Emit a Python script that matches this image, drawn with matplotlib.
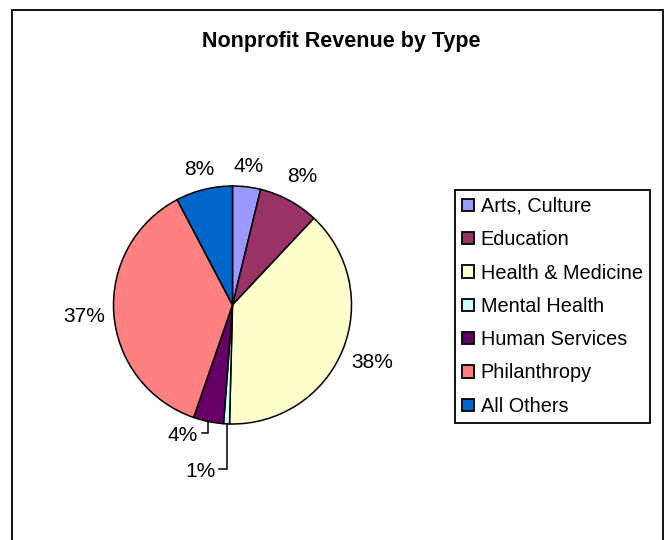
import numpy as np
import matplotlib
matplotlib.use("Agg")
import matplotlib.pyplot as plt
from matplotlib.patches import Rectangle

plt.rcParams['font.family'] = ['Liberation Sans', 'DejaVu Sans']

# data (share of revenue, %)
categories = ['Arts, Culture', 'Education', 'Health & Medicine', 'Mental Health',
              'Human Services', 'Philanthropy', 'All Others']
shares = [3.8, 8.2, 38.4, 0.8, 4.1, 37.0, 7.7]
colors = ['#9999FF', '#993366', '#FFFFCC', '#CCFFFF', '#660066', '#FF8080', '#0066CC']

# label placement (radius in pie units), None = leader line label
label_r = [1.17, 1.23, 1.27, None, None, 1.25, 1.17]
# leader line elbows (y of the horizontal part, x where it ends)
leader = {3: (-1.381, -0.111), 4: (-1.078, -0.259)}

W, H = 665, 540
fig = plt.figure(figsize=(W / 100, H / 100), dpi=100)

# outer chart border (bottom edge runs off the image)
fig.patches.append(Rectangle((12 / W, -0.02), (663 - 12) / W, (530 / H) + 0.02,
                             transform=fig.transFigure, fill=False,
                             edgecolor='black', linewidth=1.3))

fig.text(341.7 / W, 1 - 41.7 / H, 'Nonprofit Revenue by Type',
         ha='center', va='center', fontsize=15.5, fontweight='bold')

cx, cy, R = 232.5, 305, 119.0
half = 150
ax = fig.add_axes([(cx - half) / W, (H - cy - half) / H, 2 * half / W, 2 * half / H])
wedges, _ = ax.pie(shares, colors=colors, startangle=90, counterclock=False,
                   wedgeprops=dict(edgecolor='black', linewidth=1.1))
lim = half / R
ax.set_xlim(-lim, lim)
ax.set_ylim(-lim, lim)
ax.set_aspect('equal')
ax.axis('off')

total = sum(shares)
for i, w in enumerate(wedges):
    txt = f"{shares[i] / total * 100:.0f}%"
    mid = np.deg2rad((w.theta1 + w.theta2) / 2)
    ux, uy = np.cos(mid), np.sin(mid)
    if label_r[i] is not None:
        ax.text(label_r[i] * ux, label_r[i] * uy, txt, ha='center', va='center',
                fontsize=15)
    else:
        ly, lx = leader[i]
        ax.plot([ux, ux, lx], [uy, ly, ly], color='black', linewidth=1.1,
                solid_joinstyle='miter', clip_on=False)
        ax.text(lx - 0.03, ly - 0.02, txt, ha='right', va='center', fontsize=15)

leg = fig.legend(wedges, categories, loc='upper left',
                 bbox_to_anchor=(455 / W, 1 - 190 / H), fontsize=14.3,
                 frameon=True, fancybox=False, framealpha=1, edgecolor='black',
                 handlelength=0.6, handleheight=0.58, handletextpad=0.35,
                 labelspacing=0.72, borderpad=0.35, borderaxespad=0)
leg.get_frame().set_linewidth(1.3)
for h in leg.legend_handles:
    h.set_edgecolor('black')
    h.set_linewidth(1.3)

fig.savefig('out.png', dpi=100, facecolor='white')
